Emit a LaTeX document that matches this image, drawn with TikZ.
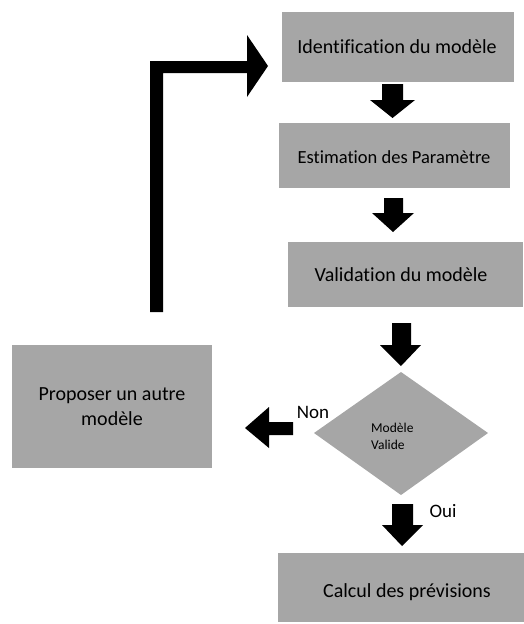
\documentclass[tikz,border=0pt]{standalone}
\usepackage{fontspec}
\setmainfont{Carlito}[Ligatures=NoCommon]
\begin{document}
\begin{tikzpicture}[x=1pt,y=-1pt,
  boxtext/.style={font=\fontsize{20}{24}\selectfont,text=black,align=center,inner sep=0pt},
  labeltext/.style={font=\fontsize{19}{22}\selectfont,text=black,inner sep=0pt}]
\definecolor{boxgray}{HTML}{A6A6A6}
\useasboundingbox (0,0) rectangle (524,624);

% process boxes
\fill[boxgray] (282,12) rectangle (514,82);
\node[boxtext] (ident) at (397,47) {Identification du modèle};

\fill[boxgray] (279,123) rectangle (510,188);
\node[boxtext,font=\fontsize{18.5}{22}\selectfont] (estim) at (394,157) {Estimation des Paramètre};

\fill[boxgray] (288,242) rectangle (523,307);
\node[boxtext] (valid) at (401,275) {Validation du modèle};

\fill[boxgray] (12,345) rectangle (212,468);
\node[boxtext,font=\fontsize{20}{25}\selectfont] (propose) at (112,407) {Proposer un autre\\modèle};

\fill[boxgray] (278,553) rectangle (524,622);
\node[boxtext] (calcul) at (407,592) {Calcul des prévisions};

% decision diamond
\coordinate (dtop) at (401,372);
\coordinate (dright) at (488,433);
\coordinate (dbottom) at (401,495);
\coordinate (dleft) at (314,433);
\fill[boxgray] (dtop) -- (dright) -- (dbottom) -- (dleft) -- cycle;
\node[boxtext,font=\fontsize{13.5}{17}\selectfont,align=left,anchor=west] (decide) at (371,436) {Modèle\\Valide};

% block arrows between the steps
\fill[black] (382,84) -- (403,84) -- (403,100) -- (415,100) -- (392.5,118) -- (370,100) -- (382,100) -- cycle;
\fill[black] (384,198) -- (403,198) -- (403,213) -- (414,213) -- (393,232) -- (372,213) -- (384,213) -- cycle;
\fill[black] (392,323) -- (411,323) -- (411,345) -- (421,345) -- (401,366) -- (380,345) -- (392,345) -- cycle;
\fill[black] (392,504) -- (413,504) -- (413,525) -- (423,525) -- (402,546) -- (382,525) -- (392,525) -- cycle;

% "Non" branch and branch labels
\fill[black] (293,422) -- (293,435) -- (269,435) -- (269,448) -- (245,428) -- (269,407) -- (269,422) -- cycle;
\node[labeltext] (non) at (313,412) {Non};
\node[labeltext] (oui) at (443,511) {Oui};

% loop back to the first step
\fill[black] (150,312) -- (163,312) -- (163,73) -- (247,73) -- (247,97) -- (268,66) -- (247,35) -- (247,61) -- (150,61) -- cycle;
\end{tikzpicture}
\end{document}
